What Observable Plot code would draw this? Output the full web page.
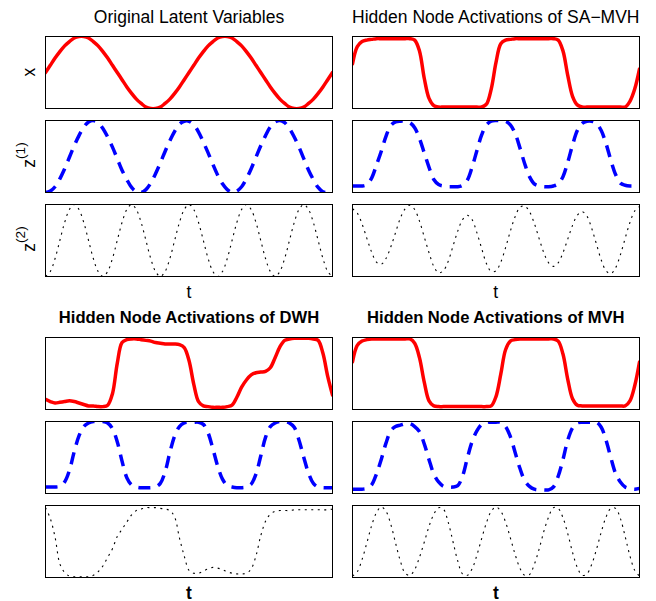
<!DOCTYPE html>
<html>
<head>
<meta charset="utf-8">
<script src="https://cdn.jsdelivr.net/npm/d3@7"></script>
<script src="https://cdn.jsdelivr.net/npm/@observablehq/plot@0.6"></script>
<style>
html, body { margin: 0; padding: 0; background: #fff; }
#chart { position: relative; width: 656px; height: 601px; overflow: hidden; background: #fff;
  font-family: "Liberation Sans", Arial, Helvetica, sans-serif; }
#chart .cell { position: absolute; }
#chart svg { display: block; }
#overlay { position: absolute; left: 0; top: 0; pointer-events: none; }
</style>
</head>
<body>
<div id="chart"></div>
<script>
// ---- Panel titles and axis labels ----
const panelTitles = [
  "Original Latent Variables",
  "Hidden Node Activations of SA\u2212MVH",
  "Hidden Node Activations of DWH",
  "Hidden Node Activations of MVH"
];
const xLabel = "t";
const rowLabels = ["x", "z", "z"];
const rowSup = ["", "(1)", "(2)"];

// ---- Series values (0 = bottom of box, 100 = top), sampled evenly along t ----
const origX = [50,60,70,79,87,93,98,100,100,98,93,87,79,70,60,50,40,30,21,13,7,2,0,0,2,7,13,21,30,40,50,60,70,79,87,93,98,100,100,98,93,87,79,70,60,50,40,30,21,13,7,2,0,0,2,7,13,21,30,40,50];
const origZ1 = [0,2,8,19,33,49,65,79,91,98,100,97,89,77,63,47,31,18,7,1,0,4,13,26,41,57,72,85,95,99,99,94,84,70,55,39,24,12,4,0,2,8,19,33,49,65,79,91,98,100,97,89,77,63,47,31,18,7,1,0,4];
const origZ2 = [0,7,25,50,75,93,100,93,75,50,25,7,0,7,25,50,75,93,100,93,75,50,25,7,0,7,25,50,75,93,100,93,75,50,25,7,0,7,25,50,75,93,100,93,75,50,25,7,0,7,25,50,75,93,100,93,75,50,25,7,0];

const saX = [62,86,93,95,96,97,97,97,97,97,97,97,97,95,80,42,14,4,2,2,2,2,2,2,2,2,2,2,6,27,64,90,95,96,97,97,97,97,97,97,97,97,97,95,80,46,17,5,2,2,2,2,2,2,2,2,2,2,10,27,55];
const saZ1 = [9,9,9,11,20,38,57,78,93,98,99,99,97,90,75,55,35,18,11,9,8,8,8,10,17,35,58,80,94,99,100,100,99,94,82,62,40,22,12,9,8,8,9,12,22,42,66,86,96,99,99,96,86,68,45,25,13,10,9,9,9];
const saZ2 = [94,88,73,53,34,20,17,25,41,61,81,94,99,93,77,55,33,14,5,8,21,42,63,79,85,79,61,39,18,7,8,20,40,63,83,96,98,90,74,53,33,19,14,19,33,52,71,85,90,84,67,45,23,8,4,12,30,53,75,91,97];

const dwhX = [14,11,9,10,11,12,11,9,7,5,5,4,4,6,22,64,93,97,98,98,97,96,95,93,92,91,91,91,90,86,68,35,11,5,4,3,3,3,4,6,17,31,41,48,51,52,53,58,72,87,96,98,99,99,99,99,98,96,78,46,20];
const dwhZ1 = [9,9,9,10,16,32,58,80,93,98,100,100,100,98,90,72,45,22,12,9,8,8,8,9,14,30,57,80,93,98,99,99,99,96,84,62,38,20,11,9,8,8,9,13,27,52,78,93,98,100,100,98,92,74,50,28,14,9,8,8,8];
const dwhZ2 = [97,82,56,19,7,2,1,1,1,1,3,8,16,28,40,57,67,77,87,93,95,97,97,97,96,95,93,84,55,30,10,6,6,9,12,14,13,11,8,6,5,5,6,12,30,58,78,88,92,93,93,93,94,94,94,94,94,94,94,94,95];

const mvhX = [66,89,95,97,98,98,98,98,98,98,98,98,98,92,72,38,12,5,4,4,4,4,4,4,4,4,4,4,4,5,18,49,83,95,97,98,98,98,98,98,98,98,98,95,77,42,15,6,5,5,5,5,5,5,5,5,5,5,12,33,66];
const mvhZ1 = [6,6,6,7,12,27,47,70,87,93,95,97,97,93,86,69,47,27,16,10,9,9,11,24,49,72,87,96,99,99,99,99,93,79,57,35,18,10,6,5,5,5,9,24,47,74,91,98,99,99,99,99,92,74,50,28,16,9,7,6,7];
const mvhZ2 = [2,8,25,48,72,90,98,92,74,48,23,6,3,11,28,49,71,88,97,95,77,50,23,5,3,12,31,54,76,92,98,92,77,55,32,13,3,4,18,39,64,84,97,96,83,61,35,14,3,5,18,39,63,84,96,96,82,57,30,10,2];

const panelSeries = [
  [origX, origZ1, origZ2],
  [saX, saZ1, saZ2],
  [dwhX, dwhZ1, dwhZ2],
  [mvhX, mvhZ1, mvhZ2]
];

// ---- Styling / layout ----
const rowStyles = [
  {stroke: "#ff0000", strokeWidth: 3.5, dash: null, cap: "round"},
  {stroke: "#0000ff", strokeWidth: 3.5, dash: "12,8", cap: "butt"},
  {stroke: "#000000", strokeWidth: 1.1, dash: "2,4.5", cap: "butt"}
];
const colLeft = [43, 350];
const rowTops = [[34, 118, 202], [335, 419, 503]];
const boxW = 287, boxH = 72, M = 2;

const chart = document.getElementById("chart");

function cell(values, style) {
  const data = values.map((v, i) => ({t: i / (values.length - 1), v}));
  return Plot.plot({
    width: boxW + 2 * M,
    height: boxH + 2 * M,
    margin: M,
    style: {background: "transparent", overflow: "visible"},
    x: {domain: [0, 1], axis: null},
    y: {domain: [0, 100], axis: null},
    marks: [
      Plot.lineY(data, {
        x: "t", y: "v",
        stroke: style.stroke,
        strokeWidth: style.strokeWidth,
        strokeDasharray: style.dash || undefined,
        strokeLinecap: style.cap,
        strokeLinejoin: "round",
        curve: "catmull-rom",
        clip: true
      }),
      Plot.frame({stroke: "#000", strokeWidth: 1})
    ]
  });
}

panelSeries.forEach((series, p) => {
  const col = p % 2, band = Math.floor(p / 2);
  series.forEach((values, r) => {
    const div = document.createElement("div");
    div.className = "cell";
    div.style.left = colLeft[col] + "px";
    div.style.top = rowTops[band][r] + "px";
    div.appendChild(cell(values, rowStyles[r]));
    chart.appendChild(div);
  });
});

// ---- Text overlay: titles, t labels, row labels ----
const ns = "http://www.w3.org/2000/svg";
const svg = document.createElementNS(ns, "svg");
svg.setAttribute("id", "overlay");
svg.setAttribute("width", 656);
svg.setAttribute("height", 601);
svg.setAttribute("font-family", "'Liberation Sans', Arial, Helvetica, sans-serif");
chart.appendChild(svg);

function addText(str, x, y, opts = {}) {
  const t = document.createElementNS(ns, "text");
  t.setAttribute("x", x);
  t.setAttribute("y", y);
  t.setAttribute("text-anchor", "middle");
  t.setAttribute("font-size", opts.size || 17.5);
  t.setAttribute("fill", "#000");
  if (opts.bold) t.setAttribute("font-weight", "bold");
  t.textContent = str;
  svg.appendChild(t);
  return t;
}

const colCenter = [189, 495.8];
const titleBase = [23, 323];
const tBase = [298, 598.5];
panelTitles.forEach((title, p) => {
  const col = p % 2, band = Math.floor(p / 2);
  addText(title, colCenter[col], titleBase[band], {bold: band === 1, size: band === 1 ? 16.6 : 17.5});
  addText(xLabel, colCenter[col], tBase[band], {bold: band === 1, size: 17.5});
});

const labelCenters = [72, 155, 239];
rowLabels.forEach((lab, r) => {
  const t = document.createElementNS(ns, "text");
  t.setAttribute("transform", `translate(35,${labelCenters[r]}) rotate(-90)`);
  t.setAttribute("text-anchor", "middle");
  t.setAttribute("font-size", 17.5);
  t.setAttribute("fill", "#000");
  t.textContent = lab;
  if (rowSup[r]) {
    const s = document.createElementNS(ns, "tspan");
    s.setAttribute("dy", -10);
    s.setAttribute("font-size", 13.5);
    s.textContent = rowSup[r];
    t.appendChild(s);
  }
  svg.appendChild(t);
});
</script>
</body>
</html>
